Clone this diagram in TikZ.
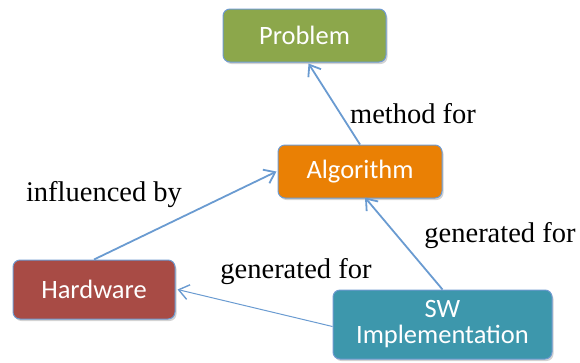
\documentclass[tikz,border=0pt]{standalone}
\usepackage{fontspec}
\setmainfont{Liberation Serif}
\newfontfamily\boxfont{Carlito}
\usetikzlibrary{arrows.meta,shadows}
\definecolor{cgreen}{HTML}{8CA74B}
\definecolor{corange}{HTML}{EA8004}
\definecolor{cred}{HTML}{A84B45}
\definecolor{cteal}{HTML}{3D97AC}
\definecolor{cborder}{HTML}{6E9AD0}
\definecolor{carrow}{HTML}{6A9BD1}
\tikzset{
  box/.style={draw=cborder, line width=1pt, rounded corners=7pt, text=white,
    font=\boxfont\fontsize{26.5}{29}\selectfont, align=center, inner sep=0pt,
    drop shadow={shadow xshift=1.5pt, shadow yshift=-2pt, opacity=0.35, fill=gray}},
  conn/.style={draw=carrow, line width=1.8pt, -{Straight Barb[length=10pt,width=15pt,line width=1.8pt]}},
  thinconn/.style={draw=carrow, line width=1pt, -{Straight Barb[length=10pt,width=15pt,line width=1.4pt]}},
  lbl/.style={font=\fontsize{28.5}{32}\selectfont, inner sep=0pt}
}
\begin{document}
\begin{tikzpicture}[x=1pt,y=-1pt]
\useasboundingbox (0,0) rectangle (580,362);
\node[box, fill=cgreen, minimum width=163pt, minimum height=53pt] (prob) at (304.5,35.5) {Problem};
\node[box, fill=corange, minimum width=164pt, minimum height=53pt] (alg) at (360,171.5) {Algorithm};
\node[box, fill=cred, minimum width=162pt, minimum height=59pt] (hw) at (94,289.5) {Hardware};
\node[box, fill=cteal, minimum width=219pt, minimum height=69pt] (sw) at (442.5,324.5) {SW\\[-3pt]Implementation};

\draw[conn] (alg.north) -- ([xshift=4pt,yshift=-1pt]prob.south);
\draw[conn] (hw.north) -- ([xshift=-1pt]alg.west);
\draw[conn] (sw.north) -- ([xshift=5pt,yshift=1pt]alg.south);
\draw[thinconn] ([yshift=-2pt]sw.west) -- ([xshift=2pt]hw.east);

\node[lbl] (l1) at (413,114) {method for};
\node[lbl] (l2) at (104,195) {influenced by};
\node[lbl] (l3) at (296,272) {generated for};
\node[lbl] (l4) at (500,236) {generated for};
\end{tikzpicture}
\end{document}
